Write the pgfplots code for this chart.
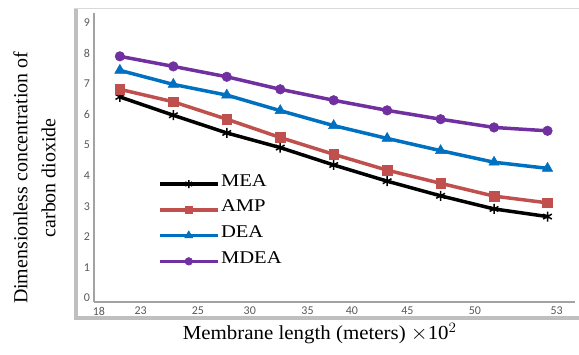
\documentclass[border=0pt]{standalone}
\usepackage{graphicx}
\usepackage{pgfplots}
\pgfplotsset{compat=1.18}
\usepackage{fontspec}
\setmainfont{Liberation Serif}
\newfontfamily\calibri{Carlito}
\definecolor{ampred}{HTML}{C0504D}
\definecolor{deablue}{HTML}{0070C0}
\definecolor{mdeapurple}{HTML}{7030A0}
\definecolor{tickgray}{HTML}{595959}
\definecolor{axgray}{HTML}{A3A3A3}
\newcommand{\wx}[2]{\scalebox{#1}[1]{#2}}
\begin{document}
\begin{tikzpicture}
\fill[white] (-94.3bp,-53bp) rectangle (484.7bp,302bp);
% chart frame
\draw[color=black!15, line width=1bp] (-20.3bp,293bp) -- (484.7bp,293bp);
\fill[black!25] (-20.3bp,-18bp) rectangle (-16.3bp,293bp);
\fill[black!25] (-20.3bp,-18bp) rectangle (484.7bp,-14bp);
\begin{axis}[
  scale only axis, width=480.7bp, height=289bp,
  xmin=0.52, xmax=9.505, ymin=-0.13, ymax=9.33,
  axis lines=left,
  axis line style={-, draw=axgray, line width=1.6bp},
  xtick={0.607,1.39,2.46,3.43,4.51,5.34,6.38,7.64,9.17},
  xticklabels={18,23,25,\raisebox{-2bp}{30},\raisebox{-2bp}{35},\raisebox{-2bp}{40},\raisebox{-2bp}{45},50,53},
  ytick={0,1,2,3,4,5,6,7,8,9},
  major tick length=0pt,
  /pgf/number format/assume math mode=true,
  tick label style={font=\calibri\fontsize{12}{12}\selectfont, text=tickgray},
  xticklabel style={anchor=north, inner sep=0pt, yshift=-5bp},
  yticklabel style={anchor=east, inner sep=0pt, xshift=-4bp},
  xlabel={\wx{1.05}{Membrane length (meters) $\times$10$^{2}$}},
  xlabel style={at={(axis description cs:0.4695,-0.1315)}, anchor=base, font=\fontsize{20}{24}\selectfont},
  ylabel={Dimensionless concentration of\\carbon dioxide},
  ylabel style={at={(axis description cs:-0.1244,0.429)}, anchor=center, align=center, font=\fontsize{20}{28}\selectfont},
  legend style={draw=none, fill=none, at={(axis description cs:0.1325,0.453)}, anchor=north west,
    font=\fontsize{18}{18}\selectfont, row sep=0pt, inner sep=0pt,
    nodes={inner sep=1.5bp, text height=13.5bp, text depth=9.3bp}},
  legend cell align=left,
  legend image code/.code={\draw[#1, every mark/.append style={scale=0.8}, mark repeat=2, mark phase=2] plot coordinates {(0bp,0bp) (29bp,0bp) (58bp,0bp)};},
]
\addplot[color=black, line width=3.5bp, mark=asterisk, mark size=5bp, mark options={solid, line width=1.5bp}]
  coordinates {(1,6.58) (2,5.98) (3,5.40) (4,4.92) (5,4.35) (6,3.82) (7,3.34) (8,2.91) (9,2.66)};
\addplot[color=ampred, line width=3.5bp, mark=square*, mark size=4.8bp, mark options={solid, line width=0.5bp}]
  coordinates {(1,6.83) (2,6.42) (3,5.85) (4,5.25) (5,4.70) (6,4.18) (7,3.75) (8,3.33) (9,3.11)};
\addplot[color=deablue, line width=3.5bp, mark=triangle*, mark size=6bp, mark options={solid, line width=0.5bp}]
  coordinates {(1,7.45) (2,6.99) (3,6.64) (4,6.13) (5,5.64) (6,5.22) (7,4.82) (8,4.44) (9,4.24)};
\addplot[color=mdeapurple, line width=3.5bp, mark=*, mark size=4.8bp, mark options={solid, line width=0.5bp}]
  coordinates {(1,7.91) (2,7.58) (3,7.24) (4,6.83) (5,6.47) (6,6.14) (7,5.85) (8,5.58) (9,5.47)};
\legend{\wx{1.15}{MEA},\wx{1.15}{AMP},\wx{1.15}{DEA},\wx{1.15}{MDEA}}
\end{axis}
\end{tikzpicture}
\end{document}
